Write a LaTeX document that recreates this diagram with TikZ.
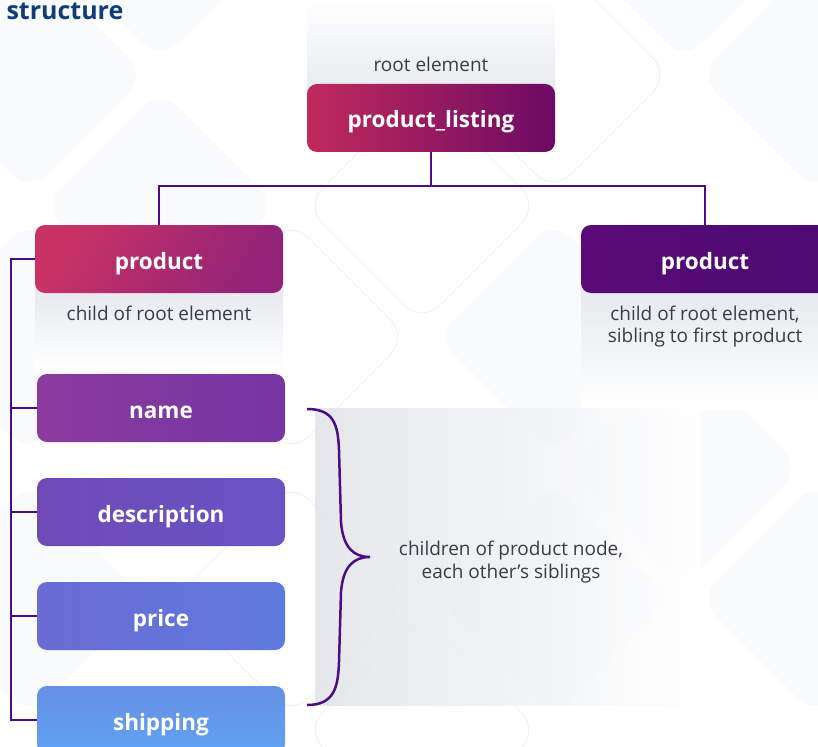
\documentclass[tikz,border=0pt]{standalone}
\usepackage{fontspec}
\setmainfont{Open Sans}
\usetikzlibrary{calc}
\definecolor{wire}{HTML}{4B0C84}
\definecolor{ttl}{HTML}{0F3D7A}
\definecolor{txt}{HTML}{3A3D46}
\definecolor{tilef}{HTML}{F9FAFC}
\definecolor{tileo}{HTML}{F1F2F6}
\definecolor{shade}{HTML}{E5E8ED}
\definecolor{rootL}{HTML}{C02A5C}
\definecolor{rootR}{HTML}{6C0A64}
\definecolor{prodAL}{HTML}{C93265}
\definecolor{prodAR}{HTML}{922378}
\definecolor{prodBL}{HTML}{5A0A77}
\definecolor{prodBR}{HTML}{4C0A73}
\definecolor{nameL}{HTML}{8C3A9E}
\definecolor{nameR}{HTML}{7636A4}
\definecolor{descL}{HTML}{6F4AB7}
\definecolor{descR}{HTML}{6854C5}
\definecolor{priceL}{HTML}{6A6BD3}
\definecolor{priceR}{HTML}{5F7ADE}
\definecolor{shipT}{HTML}{6690E4}
\definecolor{shipB}{HTML}{5FA2F4}
\tikzset{bx/.style={rounded corners=10pt, minimum width=248pt, minimum height=68pt, text=white, text height=20pt, text depth=0pt, font=\fontsize{22.5}{27}\selectfont\bfseries}}
\tikzset{lb/.style={text=txt, align=center, font=\fontsize{19}{22.5}\selectfont}}
\tikzset{ln/.style={draw=wire, line width=2.5pt}}
\tikzset{tl/.style={fill=tilef, rounded corners=25pt}}
\tikzset{tlo/.style={draw=tileo, line width=1pt, rounded corners=25pt}}

\begin{document}
\begin{tikzpicture}[x=1pt,y=-1pt]
  \path[use as bounding box, clip] (0,0) rectangle (818,746);
  % faint tiles
  \foreach \cx/\cy in {160/-56,29/75,160/206,684/-56,815/75,553/337,684/468,553/599,815/599,29/337,29/599}
    \path[tl] (\cx,\cy) ++(0,-117) -- ++(117,117) -- ++(-117,117) -- ++(-117,-117) -- cycle;
  \foreach \cx/\cy in {553/75,422/206,291/337,422/730,291/599}
    \path[tlo] (\cx,\cy) ++(0,-117) -- ++(117,117) -- ++(-117,117) -- ++(-117,-117) -- cycle;
  % grey backdrops
  \shade[top color=white, bottom color=shade] (307,0) rectangle (555,100);
  \shade[top color=shade, bottom color=white] (35,285) rectangle (283,370);
  \shade[top color=shade, bottom color=white] (581,285) rectangle (829,410);
  \shade[left color=shade!95!gray, right color=white, fill opacity=0.85] (315,408) rectangle (700,705);

  \node[anchor=base west, text=ttl, font=\fontsize{25}{30}\selectfont\bfseries] (title) at (3,19.3) {structure};

  \node[bx, left color=rootL, right color=rootR] (root) at (431,118) {product\_listing};
  \node[lb, anchor=base] (rootlbl) at (431,72) {root element};

  \node[bx, left color=prodAL, right color=prodAR, shading angle=60] (prodA) at (159,259) {product};
  \node[lb, anchor=base] (prodAlbl) at (159,320) {child of root element};
  \node[bx, left color=prodBL, right color=prodBR] (prodB) at (705,259) {product};
  \node[lb] (prodBlbl) at (705,326.5) {child of root element,\\sibling to first product};

  \node[bx, left color=nameL, right color=nameR] (name) at (161,408) {name};
  \node[bx, left color=descL, right color=descR] (desc) at (161,512) {description};
  \node[bx, left color=priceL, right color=priceR] (price) at (161,616) {price};
  \node[bx, top color=shipT, bottom color=shipB] (ship) at (161,720) {shipping};

  % tree lines
  \coordinate (split) at (431,186);
  \coordinate (rail) at (11,259);
  \draw[ln] (root) -- (split) -| (prodA);
  \draw[ln] (split) -| (prodB);
  \draw[ln] (prodA.west) -- (rail) |- (ship.west);
  \foreach \n in {name,desc,price}
    \draw[ln] (rail) |- (\n.west);

  % brace
  \coordinate (brtop) at (307,409);
  \coordinate (brtip) at (370,557);
  \coordinate (brbot) at (307,705);
  \draw[ln] (brtop) .. controls (334,409) and (338,425) .. (339,450) -- (341,522)
    .. controls (343,548) and (354,557) .. (brtip)
    .. controls (354,557) and (343,566) .. (341,592) -- (339,662)
    .. controls (338,688) and (334,705) .. (brbot);
  \node[lb] (sibl) at (511,562) {children of product node,\\each other’s siblings};
\end{tikzpicture}
\end{document}
